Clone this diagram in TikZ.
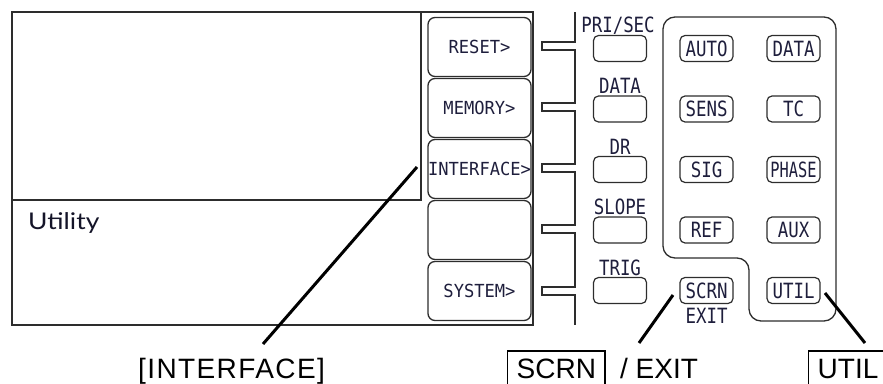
\documentclass[tikz,border=0pt]{standalone}
\usepackage{fontspec}
\setmainfont{Liberation Sans}
\newfontfamily\btnfont{DejaVu Sans Mono}[FakeStretch=0.95]
\newfontfamily\keyfont{DejaVu Sans Mono}[FakeStretch=0.83]
\newfontfamily\latofont{Lato}[FakeStretch=1.15]
\newfontfamily\spacedfont{Liberation Sans}[LetterSpace=5]
\definecolor{frame}{RGB}{45,45,45}
\definecolor{lbl}{RGB}{30,30,60}
\tikzset{
  frm/.style={draw=frame, line width=1.4pt},
  softbtn/.style={draw=frame, line width=1.3pt, rounded corners=7pt, minimum width=103pt, minimum height=59pt, inner sep=0pt, font=\btnfont\fontsize{18}{18}\selectfont, text=lbl},
  keybtn/.style={draw=frame, line width=1.2pt, rounded corners=5pt, minimum width=53pt, minimum height=26pt, inner sep=0pt, font=\keyfont\fontsize{21}{21}\selectfont, text=lbl},
  keylbl/.style={anchor=base, inner sep=0pt, font=\keyfont\fontsize{21}{21}\selectfont, text=lbl},
  callout/.style={line width=3pt, black},
  bottomtxt/.style={anchor=base west, inner sep=0pt, font=\fontsize{28}{28}\selectfont},
  boxtxt/.style={draw, line width=1.4pt, anchor=base west, inner xsep=9pt, inner ysep=0pt, text height=27pt, text depth=12pt, font=\fontsize{28}{28}\selectfont},
}
\begin{document}
\begin{tikzpicture}[x=1pt,y=-1pt]
\useasboundingbox (0,0) rectangle (883,383);
\begin{scope}
\clip (0,0) rectangle (883,383);
% display frame
\draw[frm] (12,12) rectangle (533,325);
\draw[frm] (421,12) -- (421,200) -- (12,200);
\node[anchor=base west, inner sep=0pt, font=\latofont\fontsize{23}{23}\selectfont, text={rgb,255:red,20;green,20;blue,40}] (util) at (28,229) {Utility};
% soft buttons
\node[softbtn] (sb1) at (479.5,47) {RESET>};
\node[softbtn] (sb2) at (479.5,108) {MEMORY>};
\node[softbtn] (sb3) at (479.5,169) {INTERFACE>};
\node[softbtn] (sb4) at (479.5,230) {};
\node[softbtn] (sb5) at (479.5,291) {SYSTEM>};
% bus with brackets
\coordinate (bustop) at (575,12);
\coordinate (busbot) at (575,325);
\draw[frm] (bustop)
  -- (575,42) -- (542,42) -- (542,50) -- (575,50)
  -- (575,103) -- (542,103) -- (542,111) -- (575,111)
  -- (575,164) -- (542,164) -- (542,172) -- (575,172)
  -- (575,225) -- (542,225) -- (542,233) -- (575,233)
  -- (575,287) -- (542,287) -- (542,295) -- (575,295)
  -- (busbot);
% left key column with labels
\node[keybtn] (k1) at (620,48.5) {};
\node[keybtn] (k2) at (620,109) {};
\node[keybtn] (k3) at (620,169.5) {};
\node[keybtn] (k4) at (620,230) {};
\node[keybtn] (k5) at (620,290.5) {};
\node[keylbl] (l1) at (618,32) {PRI/SEC};
\node[keylbl] (l2) at (620,93) {DATA};
\node[keylbl] (l3) at (620,154) {DR};
\node[keylbl] (l4) at (620,214) {SLOPE};
\node[keylbl] (l5) at (620,275) {TRIG};
% panel outline
\draw[frm, line width=1.3pt, rounded corners=12pt] (663,17) -- (836,17) -- (836,321) -- (749,321) -- (749,258) -- (663,258) -- cycle;
% panel keys
\node[keybtn] (auto) at (706.5,48.5) {AUTO};
\node[keybtn] (sens) at (706.5,109) {SENS};
\node[keybtn] (sig) at (706.5,169.5) {SIG};
\node[keybtn] (ref) at (706.5,230) {REF};
\node[keybtn] (scrn) at (706.5,290.5) {SCRN};
\node[keybtn] (data) at (793.5,48.5) {DATA};
\node[keybtn] (tc) at (793.5,109) {TC};
\node[keybtn] (phase) at (793.5,169.5) {\scalebox{0.88}[1]{PHASE}};
\node[keybtn] (aux) at (793.5,230) {AUX};
\node[keybtn] (utilk) at (793.5,290.5) {UTIL};
\node[keylbl] (exit) at (706.5,323) {EXIT};
% bottom captions
\node[bottomtxt, font=\spacedfont\fontsize{28}{28}\selectfont] (capif) at (138,378) {[INTERFACE]};
\node[boxtxt] (capscrn) at (507,378) {SCRN};
\node[bottomtxt] (capexit) at (620,378) {/ EXIT};
\node[boxtxt] (caputil) at (808,378) {UTIL};
% callout lines
\coordinate (a1) at (417,167);
\coordinate (b1) at (263,344);
\coordinate (a2) at (673,295);
\coordinate (b2) at (639,343);
\coordinate (a3) at (825,293);
\coordinate (b3) at (865,343);
\draw[callout] (a1) -- (b1);
\draw[callout] (a2) -- (b2);
\draw[callout] (a3) -- (b3);
\end{scope}
\end{tikzpicture}
\end{document}
